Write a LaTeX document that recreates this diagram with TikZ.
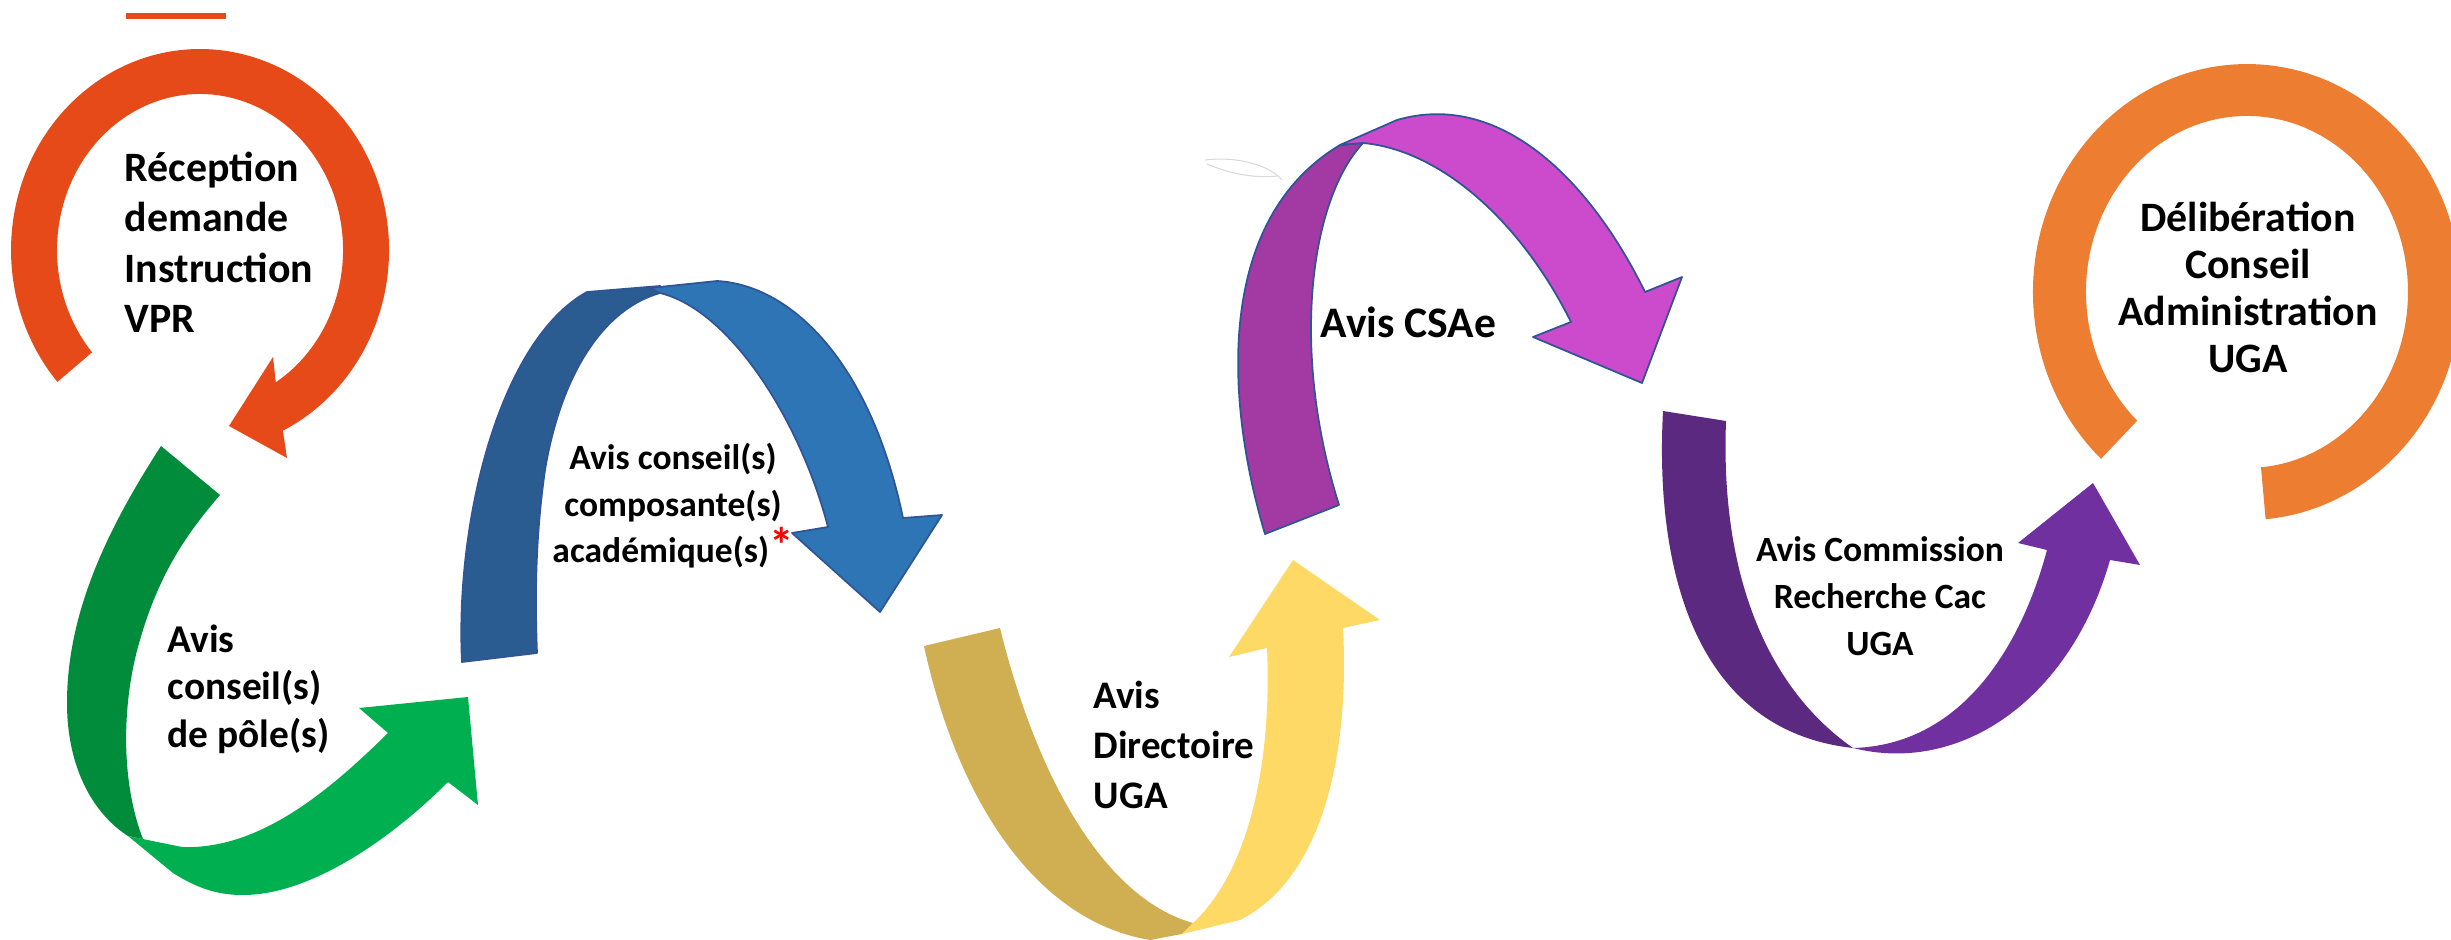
\documentclass[tikz,border=0pt]{standalone}
\usepackage{fontspec}
\setmainfont{Carlito}
\definecolor{rouge}{HTML}{E64A19}
\definecolor{vertfonce}{HTML}{008C3A}
\definecolor{vertclair}{HTML}{00B050}
\definecolor{bleufonce}{HTML}{2A5C92}
\definecolor{bleuclair}{HTML}{2E75B6}
\definecolor{bordbleu}{HTML}{2F5597}
\definecolor{orfonce}{HTML}{CFAF52}
\definecolor{jaune}{HTML}{FFD966}
\definecolor{magfonce}{HTML}{A33AA3}
\definecolor{magclair}{HTML}{CC4ACC}
\definecolor{violfonce}{HTML}{5B2A80}
\definecolor{violclair}{HTML}{7030A0}
\definecolor{orange}{HTML}{ED7D31}

\begin{document}
\begin{tikzpicture}[x=0.01cm,y=-0.01cm]
\tikzstyle{every node}+=[inner sep=0pt]
\tikzstyle{etape}=[font=\bfseries, inner sep=0pt]
\tikzstyle{bord}=[draw=bordbleu, line width=0.5pt, line join=round]
\useasboundingbox (0,0) rectangle (2451,940);
\fill [rouge] (126,13) rectangle (226,19);
\fill [rouge] (57.4,381.9) arc [start angle=139, end angle=424, x radius=189, y radius=201] -- (287,458) -- (229,426) -- (273,357) -- (275.8,382.3) arc [start angle=418, end angle=139, x radius=143, y radius=156] -- cycle;
\fill [vertfonce] (161,446) .. controls (110,525) and (67,610) .. (67,703) .. controls (67,770) and (95,815) .. (128,836) -- (143,839) .. controls (120,780) and (122,700) .. (140,640) .. controls (160,570) and (190,530) .. (220,495) -- cycle;
\fill [vertclair] (128,836) -- (173,873) .. controls (200,890) and (220,895) .. (243,895) .. controls (310,895) and (390,840) .. (448,782) -- (478,805) -- (468,697) -- (359,708) -- (388,733) .. controls (330,790) and (260,850) .. (182,847) -- cycle;
\filldraw [bleufonce, bord] (462,662) .. controls (455,520) and (500,340) .. (587,292) -- (660,286) -- (660,293) .. controls (600,310) and (560,380) .. (545,470) .. controls (535,540) and (535,600) .. (537,653) -- cycle;
\filldraw [bleuclair, bord] (650,288) -- (717,281) .. controls (790,285) and (870,360) .. (903,518) -- (942,515) -- (880,612) -- (792,533) -- (828,527) .. controls (800,420) and (730,310) .. (660,293) -- cycle;
\fill [orfonce] (924,646) .. controls (955,790) and (1030,920) .. (1150,940) -- (1182,934) -- (1193,923) .. controls (1110,900) and (1040,790) .. (1000,628) -- cycle;
\fill [jaune] (1182,934) -- (1240,920) .. controls (1320,880) and (1350,760) .. (1343,628) -- (1380,620) -- (1293,560) -- (1229,657) -- (1267,648) .. controls (1272,760) and (1250,870) .. (1193,923) -- cycle;
\draw [gray!30, line width=0.3pt] (1205,160) .. controls (1240,156) and (1270,166) .. (1282,180) (1207,164) .. controls (1235,176) and (1260,178) .. (1278,176);
\filldraw [magfonce, bord] (1265,534) .. controls (1225,400) and (1215,220) .. (1340,145) -- (1363,143) .. controls (1310,200) and (1290,350) .. (1339,505) -- cycle;
\filldraw [magclair, bord] (1340,145) -- (1397,120) .. controls (1500,90) and (1590,180) .. (1645,292) -- (1682,277) -- (1642,383) -- (1533,337) -- (1571,322) .. controls (1520,220) and (1440,150) .. (1363,143) -- cycle;
\fill [violfonce] (1663,411) .. controls (1655,560) and (1690,730) .. (1853,748) .. controls (1770,690) and (1720,580) .. (1726,421) -- cycle;
\fill [violclair] (1853,748) .. controls (1960,775) and (2070,700) .. (2110,560) -- (2140,565) -- (2093,483) -- (2018,543) -- (2047,550) .. controls (2020,650) and (1960,745) .. (1853,748) -- cycle;
\fill [orange] (2101,458.8) arc [start angle=133, end angle=445, x radius=214, y radius=228] -- (2261,467.3) arc [start angle=445, end angle=133, x radius=161, y radius=176] -- cycle;
\node [etape, font=\bfseries\fontsize{11.9}{14.4}\selectfont, align=left, anchor=base west] (reception) at (124,333) {Réception\\demande\\Instruction\\VPR};
\node [etape, font=\bfseries\fontsize{11.2}{13.4}\selectfont, align=left, anchor=base west] (pole) at (167,747) {Avis\\conseil(s)\\de pôle(s)};
\node [etape, font=\bfseries\fontsize{10.1}{13.3}\selectfont, align=center, anchor=base] (composante) at (673,563) {Avis conseil(s)\\composante(s)\\académique(s){\color{red}\fontsize{14}{14}\selectfont*}};
\node [etape, font=\bfseries\fontsize{11.1}{14.2}\selectfont, align=left, anchor=base west] (directoire) at (1093,808) {Avis\\Directoire\\UGA};
\node [etape, font=\bfseries\fontsize{12.4}{14.4}\selectfont, anchor=base west] (csae) at (1320,338) {Avis CSAe};
\node [etape, font=\bfseries\fontsize{10.1}{13.4}\selectfont, align=center, anchor=base] (commission) at (1880,656) {Avis Commission\\Recherche Cac\\UGA};
\node [etape, font=\bfseries\fontsize{11.9}{13.4}\selectfont, align=center, anchor=base] (deliberation) at (2248,373) {Délibération\\Conseil\\Administration\\UGA};
\end{tikzpicture}
\end{document}
